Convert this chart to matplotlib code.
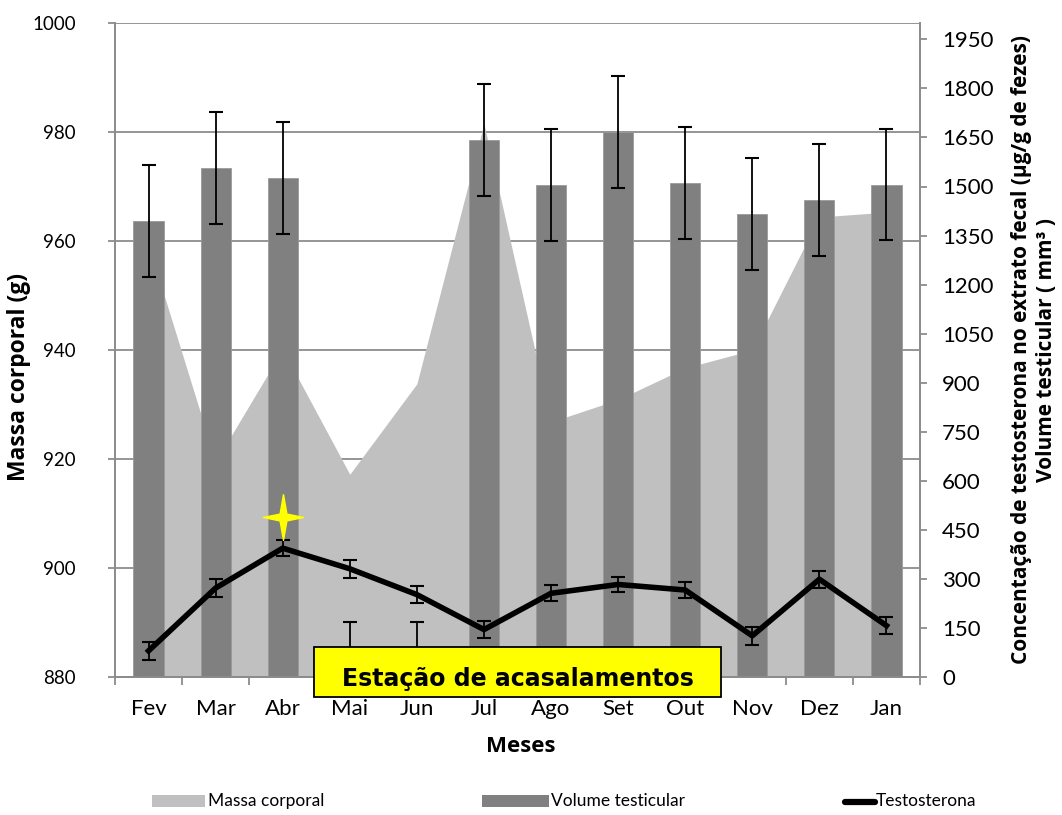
import matplotlib.pyplot as plt
import numpy as np
from matplotlib.patches import Rectangle
from matplotlib.lines import Line2D
from matplotlib.path import Path

plt.rcParams['font.family'] = ['Lato', 'DejaVu Sans']
BOLD_FONT = ['Open Sans', 'DejaVu Sans']

# ===== dados =====
meses = ['Fev', 'Mar', 'Abr', 'Mai', 'Jun', 'Jul', 'Ago', 'Set', 'Out', 'Nov', 'Dez', 'Jan']
massa = [959.3, 919.5, 940.1, 917.2, 933.8, 981.5, 926.8, 930.9, 936.7, 940.0, 964.4, 965.3]
volume = [1394, 1557, 1526, 0, 0, 1641, 1504, 1667, 1510, 1417, 1458, 1506]
volume_err = [171, 172, 172, 169, 169, 171, 171, 171, 171, 171, 171, 171]
testo = [80, 272, 394, 331, 252, 145, 256, 283, 266, 126, 299, 157]
testo_err = [27, 27, 25, 27, 27, 26, 25, 24, 24, 27, 26, 27]
destaque_mes = 'Abr'
destaque_valor = 490
legenda = ['Massa corporal', 'Volume testicular', 'Testosterona']

# ===== cores =====
COR_MASSA = '#C0C0C0'
COR_VOLUME = '#808080'
COR_GRADE = '#8C8C8C'

W, H = 1062, 815


def fx(px):
    return px / W


def fy(py):
    return 1 - py / H


x = np.arange(len(meses))

fig = plt.figure(figsize=(10.62, 8.15), dpi=100)
ax = fig.add_axes([fx(115), fy(677), fx(920) - fx(115), fy(23) - fy(677)])
ax2 = ax.twinx()

# massa corporal (área, eixo esquerdo)
ax.fill_between(x, massa, 880, color=COR_MASSA, lw=0, zorder=2)
ax.set_ylim(880, 1000)
ax.set_xlim(-0.5, len(meses) - 0.5)
ax.set_yticks(np.arange(880, 1001, 20))
ax.yaxis.grid(True, color=COR_GRADE, lw=1.3, zorder=0)
ax.set_axisbelow(True)

# volume testicular (barras) e testosterona (linha), eixo direito
ax2.bar(x, volume, width=0.45, color=COR_VOLUME, edgecolor='#9a9a9a', lw=0.6, zorder=2)
ax2.errorbar(x, volume, yerr=volume_err, fmt='none', ecolor='black',
             elinewidth=1.3, capsize=5, capthick=1.5, zorder=3)
ax2.errorbar(x, testo, yerr=testo_err, fmt='-', color='black', lw=4,
             ecolor='black', elinewidth=1.3, capsize=5, capthick=1.5, zorder=4)
ax2.set_ylim(0, 2000)
ax2.set_yticks(np.arange(0, 1951, 150))

# estrela amarela
star = Path([(0, 1), (0.15, 0.15), (0.88, 0), (0.15, -0.15), (0, -1),
             (-0.15, -0.15), (-0.88, 0), (-0.15, 0.15), (0, 1)])
ax2.plot(meses.index(destaque_mes), destaque_valor, marker=star, ms=33,
         color='#FFFF00', mec='#FFFF00', zorder=6, clip_on=False)

# eixos
for a in (ax, ax2):
    for s in a.spines.values():
        s.set_color(COR_GRADE)
        s.set_linewidth(1.3)
ax.spines['top'].set_visible(False)
ax2.spines['top'].set_visible(False)

ax.set_xticks(x)
ax.set_xticklabels(meses)
ax.set_xticks(np.arange(-0.5, len(meses)), minor=True)
ax.tick_params(axis='x', which='major', length=0, pad=16, labelsize=16)
ax.tick_params(axis='x', which='minor', length=6, width=1.3, color=COR_GRADE)
ax.tick_params(axis='y', length=5, width=1.3, color=COR_GRADE, pad=23, labelsize=13.5)
ax2.tick_params(axis='y', length=5, width=1.3, color=COR_GRADE, pad=11, labelsize=16)

# rótulos dos eixos
fig.text(fx(521), fy(746), 'Meses', fontsize=16, fontweight='bold', family=BOLD_FONT,
         ha='center', va='center')
fig.text(fx(19), fy(377), 'Massa corporal (g)', fontsize=16.5, fontweight='bold',
         family=BOLD_FONT, rotation=90, ha='center', va='center')
fig.text(fx(1034), fy(350),
         'Concentação de testosterona no extrato fecal (µg/g de fezes)\nVolume testicular ( mm³ )',
         fontsize=15, fontweight='bold', family=BOLD_FONT, rotation=90,
         ha='center', va='center', multialignment='center', linespacing=1.2)

# caixa da estação
fig.patches.append(Rectangle((fx(314), fy(697)), fx(721) - fx(314), fy(647) - fy(697),
                             transform=fig.transFigure, fc='#FFFF00', ec='black',
                             lw=1.3, zorder=9))
fig.text(fx(517.5), fy(686), 'Estação de acasalamentos', fontsize=17, fontweight='bold',
         family='DejaVu Sans', ha='center', va='baseline', zorder=10)

# legenda
fig.patches.append(Rectangle((fx(152), fy(807)), fx(205) - fx(152), fy(795) - fy(807),
                             transform=fig.transFigure, fc=COR_MASSA, ec='none'))
fig.text(fx(208), fy(801), legenda[0], fontsize=12.5, ha='left', va='center')
fig.patches.append(Rectangle((fx(482), fy(807)), fx(549) - fx(482), fy(795) - fy(807),
                             transform=fig.transFigure, fc=COR_VOLUME, ec='none'))
fig.text(fx(551), fy(801), legenda[1], fontsize=12.5, ha='left', va='center')
fig.lines.append(Line2D([fx(845), fx(875)], [fy(802), fy(802)], transform=fig.transFigure,
                        color='black', lw=4.5, solid_capstyle='round'))
fig.text(fx(876), fy(801), legenda[2], fontsize=12.5, ha='left', va='center')

fig.savefig('out.png', dpi=100)
